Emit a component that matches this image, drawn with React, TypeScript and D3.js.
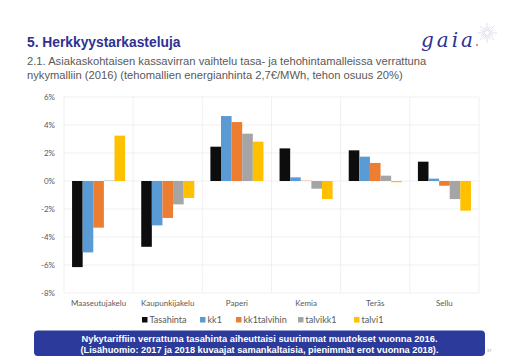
import React from 'react';
import * as d3 from 'd3';

const categories = ['Maaseutujakelu', 'Kaupunkijakelu', 'Paperi', 'Kemia', 'Teräs', 'Sellu'];
const seriesNames = ['Tasahinta', 'kk1', 'kk1talvihin', 'talvikk1', 'talvi1'];
const seriesColors = ['#0d0d0d', '#5b9bd5', '#ed7d31', '#a5a5a5', '#ffc000'];

// values in %, one array per series (order follows categories)
const tasahinta = [-6.15, -4.7, 2.45, 2.33, 2.19, 1.38];
const kk1 = [-5.1, -3.17, 4.64, 0.26, 1.74, 0.17];
const kk1talvihin = [-3.33, -2.64, 4.21, 0.02, 1.29, -0.34];
const talvikk1 = [0.03, -1.67, 3.38, -0.55, 0.38, -1.29];
const talvi1 = [3.24, -1.21, 2.81, -1.29, -0.09, -2.12];
const seriesValues = [tasahinta, kk1, kk1talvihin, talvikk1, talvi1];

const yTicks = [6, 4, 2, 0, -2, -4, -6, -8];

const W = 520;
const H = 360;
const plot = { left: 64, right: 479, top: 97, bottom: 293 };

const App: React.FC = () => {
  const x0 = d3.scaleBand<string>().domain(categories).range([plot.left, plot.right]).padding(0);
  const x1 = d3.scaleBand<string>().domain(seriesNames).range([0, x0.bandwidth()])
    .paddingInner(0).paddingOuter(0.76);
  const y = d3.scaleLinear().domain([-8, 6]).range([plot.bottom, plot.top]);

  const labelFont = 'Lato, "Open Sans", sans-serif';
  const legendX = [142, 200, 236, 298, 354];

  // little sunburst next to the logo
  const rays = d3.range(16).map(i => (i / 16) * Math.PI * 2);

  return (
    <svg width={W} height={H} style={{ position: 'absolute', left: 0, top: 0, background: '#fff' }}
      fontFamily='"Liberation Sans", Arial, sans-serif'>
      <rect width={W} height={H} fill="#fff" />

      {/* header */}
      <text x={27} y={47} fontSize={13.8} fontWeight="bold" fill="#2e3192">5. Herkkyystarkasteluja</text>
      <text x={27} y={65} fontSize={11.2} fill="#595959">
        2.1. Asiakaskohtaisen kassavirran vaihtelu tasa- ja tehohintamalleissa verrattuna
      </text>
      <text x={27} y={78.5} fontSize={11.2} fill="#595959">
        nykymalliin (2016) (tehomallien energianhinta 2,7€/MWh, tehon osuus 20%)
      </text>

      {/* logo */}
      <text x={421} y={47} fontSize={20} fontStyle="italic" fontFamily='"DejaVu Serif", "Liberation Serif", serif'
        fill="#2e3192" letterSpacing={3}>gaia</text>
      <circle cx={477} cy={45} r={1} fill="#e07050" />
      <g transform="translate(487,33)">
        {rays.map((a, i) => (
          <line key={i} x1={Math.cos(a) * 2} y1={Math.sin(a) * 2}
            x2={Math.cos(a) * (i % 2 ? 7 : 10)} y2={Math.sin(a) * (i % 2 ? 7 : 10)}
            stroke="#d5d9e2" strokeWidth={0.8} />
        ))}
      </g>

      {/* grid */}
      {yTicks.map(t => (
        <line key={t} x1={plot.left} x2={plot.right} y1={y(t)} y2={y(t)} stroke="#ececec" strokeWidth={0.8} />
      ))}
      {categories.map(c => (
        <line key={c} x1={x0(c)!} x2={x0(c)!} y1={plot.top} y2={plot.bottom} stroke="#ececec" strokeWidth={0.8} />
      ))}
      <line x1={plot.right} x2={plot.right} y1={plot.top} y2={plot.bottom} stroke="#ececec" strokeWidth={0.8} />

      {/* y tick labels */}
      {yTicks.map(t => (
        <text key={t} x={55} y={y(t) + 3} fontSize={8} fill="#595959" textAnchor="end" fontFamily={labelFont}>
          {t}%
        </text>
      ))}

      {/* bars */}
      {categories.map((c, ci) => (
        <g key={c} transform={`translate(${x0(c)},0)`}>
          {seriesNames.map((s, si) => {
            const v = seriesValues[si][ci];
            return (
              <rect key={s} x={x1(s)!} width={x1.bandwidth()}
                y={y(Math.max(0, v))} height={Math.abs(y(v) - y(0))} fill={seriesColors[si]} />
            );
          })}
        </g>
      ))}

      {/* category labels */}
      {categories.map(c => (
        <text key={c} x={x0(c)! + x0.bandwidth() / 2} y={306} fontSize={8} fill="#595959"
          textAnchor="middle" fontFamily={labelFont}>{c}</text>
      ))}

      {/* legend */}
      {seriesNames.map((s, i) => (
        <g key={s} transform={`translate(${legendX[i]},320)`}>
          <rect x={0} y={-3} width={5.5} height={5.5} fill={seriesColors[i]} />
          <text x={7.5} y={3} fontSize={9} fill="#595959" fontFamily={labelFont}>{s}</text>
        </g>
      ))}

      {/* note box */}
      <rect x={34} y={330.5} width={451} height={25.5} rx={4} fill="#2b3a9b" />
      <text x={259.5} y={341.5} fontSize={9.5} fontWeight="bold" fill="#fff" textAnchor="middle"
        textLength={356} lengthAdjust="spacingAndGlyphs">
        Nykytariffiin verrattuna tasahinta aiheuttaisi suurimmat muutokset vuonna 2016.
      </text>
      <text x={259.5} y={352.5} fontSize={9.5} fontWeight="bold" fill="#fff" textAnchor="middle"
        textLength={358} lengthAdjust="spacingAndGlyphs">
        (Lisähuomio: 2017 ja 2018 kuvaajat samankaltaisia, pienimmät erot vuonna 2018).
      </text>
      <text x={487} y={352} fontSize={4} fill="#999">37</text>
    </svg>
  );
};

export default App;
